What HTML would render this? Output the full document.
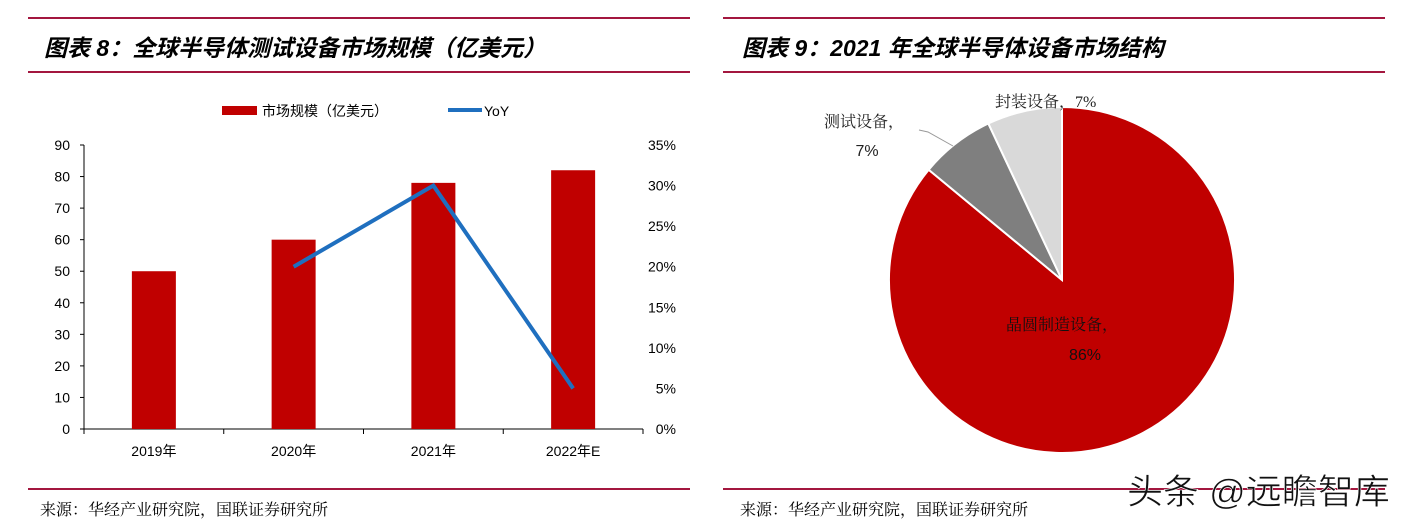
<!DOCTYPE html>
<html><head><meta charset="utf-8"><style>
body{margin:0;width:1404px;height:529px;background:#fff;overflow:hidden;font-family:"Liberation Sans","Noto Sans CJK SC",sans-serif}
svg{position:absolute;left:0;top:0}
</style></head><body>
<svg width="1404" height="529" xmlns="http://www.w3.org/2000/svg" id="svg">
<g>
<line x1="28" y1="18" x2="690" y2="18" stroke="#a3173f" stroke-width="2"/>
<line x1="28" y1="72" x2="690" y2="72" stroke="#a3173f" stroke-width="2"/>
<line x1="28" y1="489" x2="690" y2="489" stroke="#a3173f" stroke-width="2"/>
</g>
<text x="44" y="56" font-size="23" font-weight="bold" font-style="italic" fill="#000" font-family="'Liberation Sans','Noto Sans CJK SC',sans-serif">图表 8：全球半导体测试设备市场规模（亿美元）</text>
<text x="40" y="515" font-size="16" fill="#000" font-family="'Liberation Serif','Noto Serif CJK SC',serif">来源：华经产业研究院，国联证券研究所</text>
<g>
<line x1="723" y1="18" x2="1385" y2="18" stroke="#a3173f" stroke-width="2"/>
<line x1="723" y1="72" x2="1385" y2="72" stroke="#a3173f" stroke-width="2"/>
<line x1="723" y1="489" x2="1385" y2="489" stroke="#a3173f" stroke-width="2"/>
</g>
<text x="742" y="56" font-size="23" font-weight="bold" font-style="italic" fill="#000" font-family="'Liberation Sans','Noto Sans CJK SC',sans-serif">图表 9：2021 年全球半导体设备市场结构</text>
<text x="740" y="515" font-size="16" fill="#000" font-family="'Liberation Serif','Noto Serif CJK SC',serif">来源：华经产业研究院，国联证券研究所</text>
<g id="bar-chart"></g>
<g id="pie-chart"></g>
<text x="1127" y="504" font-size="35" fill="#111" stroke="#fff" stroke-width="0.6" textLength="263" lengthAdjust="spacingAndGlyphs">头条 @远瞻智库</text>
</svg>
<script>
const categories=["2019年","2020年","2021年","2022年E"];
const marketSize=[50,60,78,82];
const yoyCats=[1,2,3];
const yoyValues=[20,30,5];
const leftTicks=[0,10,20,30,40,50,60,70,80,90];
const rightTicks=[0,5,10,15,20,25,30,35];
const pieLabels=["晶圆制造设备","测试设备","封装设备"];
const pieValues=[86,7,7];

const NS="http://www.w3.org/2000/svg";
function mk(tag,attrs,parent,text){const e=document.createElementNS(NS,tag);for(const k in attrs)e.setAttribute(k,attrs[k]);if(text!==undefined)e.textContent=text;parent.appendChild(e);return e;}
const bc=document.getElementById('bar-chart');
const X0=84,X1=643,Y0=429,Y1=145;
const bw=(X1-X0)/categories.length;
const xC=i=>X0+bw*(i+0.5);
const yL=v=>Y0-(v/90)*(Y0-Y1);
const yR=v=>Y0-(v/35)*(Y0-Y1);
let a=mk('line',{x1:X0,y1:Y1,x2:X0,y2:Y0,stroke:'#000'},bc);


a=mk('line',{x1:X0,y1:Y0,x2:X1,y2:Y0,stroke:'#000'},bc);


leftTicks.forEach(v=>{const y=yL(v);
 mk('line',{x1:X0-4,y1:y,x2:X0,y2:y,stroke:'#000'},bc);
 const t=mk('text',{x:X0-14,y:y+5,'font-size':14,'text-anchor':'end',fill:'#000'},bc,String(v));
 
 });
rightTicks.forEach(v=>{const t=mk('text',{x:676,y:yR(v)+5,'font-size':14,'text-anchor':'end',fill:'#000'},bc,v+'%');
 
 });
for(let i=0;i<=categories.length;i++){mk('line',{x1:X0+bw*i,y1:Y0,x2:X0+bw*i,y2:Y0+5,stroke:'#000'},bc);}
categories.forEach((c,i)=>{
 const r=mk('rect',{x:xC(i)-22,y:yL(marketSize[i]),width:44,height:Y0-yL(marketSize[i]),fill:'#c00000'},bc);
 
 
 const t=mk('text',{x:xC(i),y:456,'font-size':14,'text-anchor':'middle',fill:'#000'},bc,c);
 
 
});
const pts=yoyCats.map((ci,j)=>xC(ci)+','+yR(yoyValues[j])).join(' ');
const pl=mk('polyline',{points:pts,fill:'none',stroke:'#1f6fbf','stroke-width':4},bc);


const lg=mk('g',{},bc);


mk('rect',{x:222,y:106,width:35,height:9,fill:'#c00000'},lg);
mk('text',{x:262,y:116,'font-size':14,fill:'#000'},lg,'市场规模（亿美元）');
mk('line',{x1:448,y1:110,x2:482,y2:110,stroke:'#1f6fbf','stroke-width':4},lg);
mk('text',{x:484,y:116,'font-size':14,fill:'#000'},lg,'YoY');
const pc=document.getElementById('pie-chart');
const cx=1062,cy=280,R=173;
const colors=['#c00000','#7f7f7f','#d9d9d9'];
const total=pieValues.reduce((s,v)=>s+v,0);
let ang=0;
pieValues.forEach((v,i)=>{
 const a0=ang, a1=ang+v/total*2*Math.PI; ang=a1;
 const p=(t)=>[cx+R*Math.sin(t),cy-R*Math.cos(t)];
 const [x0,y0]=p(a0),[x1,y1]=p(a1);
 const large=(a1-a0)>Math.PI?1:0;
 const s=mk('path',{d:`M${cx},${cy} L${x0},${y0} A${R},${R} 0 ${large} 1 ${x1},${y1} Z`,fill:colors[i],stroke:'#fff','stroke-width':2},pc);
 
 
});
const lf="'Liberation Serif','Noto Serif CJK SC',serif";
let t=mk('text',{x:1062,y:330,'font-size':16,'text-anchor':'middle',fill:'#111','font-family':lf},pc,pieLabels[0]+'，');


t=mk('text',{x:1085,y:360,'font-size':16,'text-anchor':'middle',fill:'#111'},pc,pieValues[0]+'%');


t=mk('text',{x:864,y:127,'font-size':16,'text-anchor':'middle',fill:'#222','font-family':lf},pc,pieLabels[1]+'，');


t=mk('text',{x:867,y:156,'font-size':16,'text-anchor':'middle',fill:'#222'},pc,pieValues[1]+'%');


mk('polyline',{points:'919,130 928,132 953,146',fill:'none',stroke:'#999','stroke-width':1},pc);
t=mk('text',{x:995,y:107,'font-size':16,fill:'#222','font-family':lf},pc,pieLabels[2]+'，'+pieValues[2]+'%');


</script>
</body></html>
